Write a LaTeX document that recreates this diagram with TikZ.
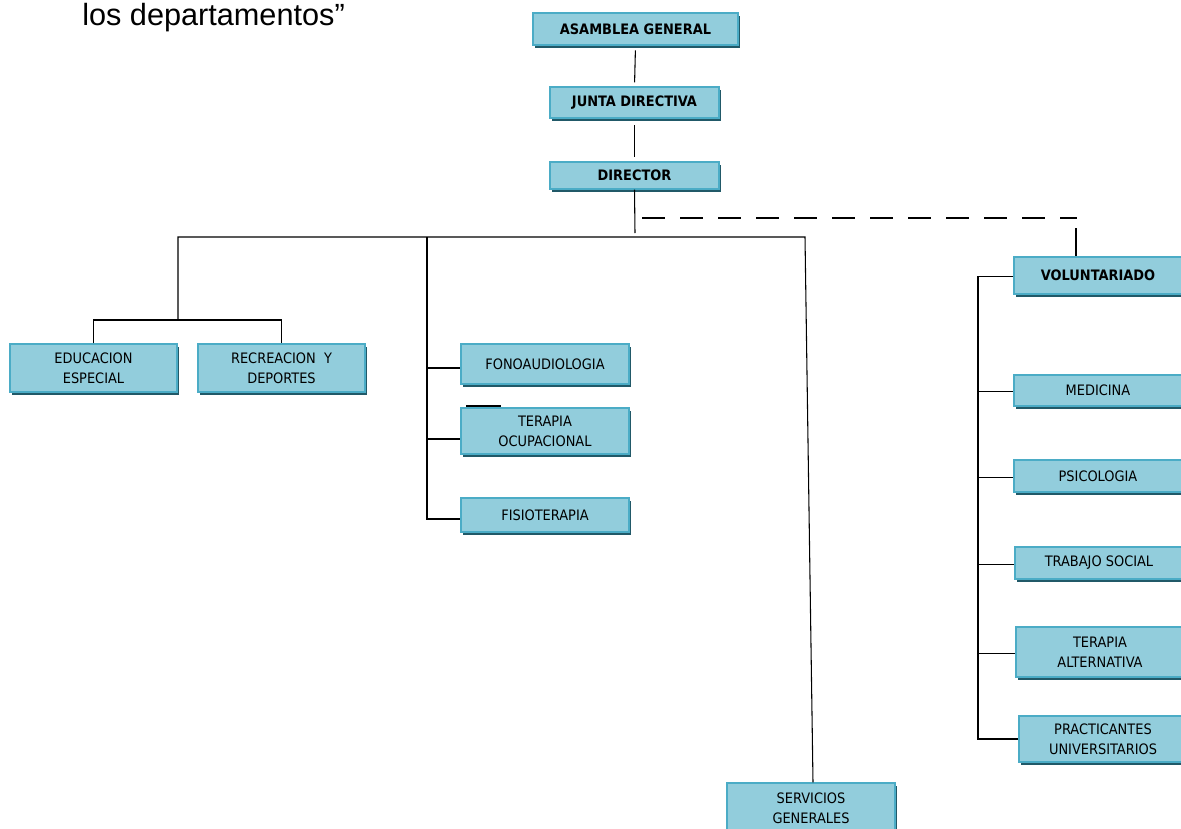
\documentclass[tikz,border=0pt]{standalone}
\usepackage{fontspec}
\setmainfont{DejaVu Sans Condensed}
\newfontfamily\titlefont{Liberation Sans}
\usetikzlibrary{shadows}
\definecolor{boxfill}{HTML}{92CDDC}
\definecolor{boxline}{HTML}{4BACC6}
\definecolor{boxshadow}{HTML}{215968}
\tikzset{
  box/.style={draw=boxline, fill=boxfill, line width=0.9pt, align=center, inner sep=0pt,
    font=\fontsize{10.8}{15}\selectfont,
    drop shadow={shadow xshift=1.6pt, shadow yshift=-2.4pt, fill=boxshadow, opacity=1}},
  bw/.style 2 args={minimum width=#1*0.75pt, minimum height=#2*0.75pt},
  conn/.style={draw=black, line width=0.8pt},
}
\begin{document}
\begin{tikzpicture}[x=0.75pt, y=-0.75pt]
\useasboundingbox (0,0) rectangle (1181,828);
\clip (0,0) rectangle (1181,828);

\node[font=\titlefont\fontsize{23}{27}\selectfont, anchor=base west, inner sep=0pt] (title) at (82,25) {los departamentos”};

% top chain
\node[box, bw={205}{32}, font=\fontsize{10.8}{15}\selectfont\bfseries] (ag) at (635.5,29) {ASAMBLEA GENERAL};
\node[box, bw={169}{31}, font=\fontsize{10.8}{15}\selectfont\bfseries] (jd) at (634.5,102.5) {JUNTA DIRECTIVA};
\node[box, bw={169}{27}, font=\fontsize{10.8}{15}\selectfont\bfseries] (dir) at (634.5,175.5) {DIRECTOR};

% left
\node[box, bw={167}{48}] (ed) at (93.5,368) {EDUCACION\\ESPECIAL};
\node[box, bw={167}{48}] (rec) at (281.5,368) {RECREACION\ \ Y\\DEPORTES};

% middle
\node[box, bw={168}{40}] (fono) at (545,364) {FONOAUDIOLOGIA};
\node[box, bw={168}{46}] (to) at (545,431) {TERAPIA\\OCUPACIONAL};
\node[box, bw={168}{34}] (fis) at (545,515) {FISIOTERAPIA};

% bottom
\node[box, bw={168}{50}] (serv) at (811,808) {SERVICIOS\\GENERALES};

% right
\node[box, bw={168}{37}, font=\fontsize{10.8}{15}\selectfont\bfseries] (vol) at (1098,275.5) {VOLUNTARIADO};
\node[box, bw={168}{31}] (med) at (1098,390.5) {MEDICINA};
\node[box, bw={168}{32}] (psi) at (1098,476) {PSICOLOGIA};
\node[box, bw={168}{32}] (ts) at (1099,563) {TRABAJO SOCIAL};
\node[box, bw={168}{50}] (ta) at (1100,652) {TERAPIA\\ALTERNATIVA};
\node[box, bw={168}{46}] (prac) at (1103,739) {PRACTICANTES\\UNIVERSITARIOS};

% connectors: top chain
\draw[conn, shorten <=3.5pt, shorten >=3pt] (ag.south) -- (jd.north);
\draw[conn, shorten <=5pt, shorten >=3.5pt] (jd.south) -- (dir.north);
\coordinate (dirbus) at (635,233);
\draw[conn] (dir.south) -- (dirbus);

% bus
\coordinate (bl) at (178,237);
\coordinate (br) at (805,237);
\coordinate (lj) at (178,320);
\coordinate (sv) at ([xshift=1.5pt]serv.north);
\draw[conn] (lj) -- (bl) -- (br) -- (sv);

% left pair
\draw[conn] (ed.north) |- (lj) -| (rec.north);

% middle column
\coordinate (mt) at (427,237);
\coordinate (fw) at ([yshift=-3pt]fono.west);
\coordinate (tw) at ([yshift=-6pt]to.west);
\coordinate (sw) at ([yshift=-3pt]fis.west);
\draw[conn] (mt) |- (sw);
\draw[conn] (mt |- fw) -- (fw);
\draw[conn] (mt |- tw) -- (tw);
\coordinate (tk) at ([xshift=4.5pt,yshift=0.9pt]to.north west);
\draw[line width=1.6pt] (tk) -- ++(35,0);

% dashed link to voluntariado
\coordinate (d1) at (642,218);
\coordinate (d2) at (1077,218);
\draw[conn, dash pattern=on 17.25pt off 11.25pt] (d1) -- (d2);
\coordinate (vt) at (1076,228);
\draw[conn] (vt) -- (vt |- vol.north);

% right column
\coordinate (rt) at (978,277);
\coordinate (vw) at ([yshift=-1pt]vol.west);
\draw[conn] (vw) -- (rt |- vw) -- (rt |- prac.west) -- (prac.west);
\foreach \n in {med,psi,ts,ta}{
  \coordinate (bw\n) at ([yshift=-1pt]\n.west);
  \draw[conn] (rt |- bw\n) -- (bw\n);
}
\end{tikzpicture}
\end{document}
